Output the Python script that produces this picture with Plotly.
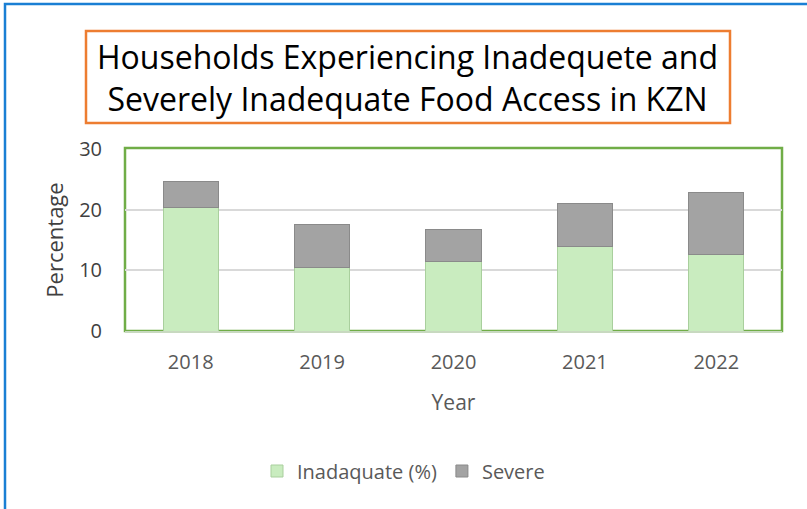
import plotly.graph_objects as go

years = ["2018", "2019", "2020", "2021", "2022"]
inadequate = [20.3, 10.4, 11.4, 14.0, 12.6]
severe = [4.4, 7.1, 5.4, 7.0, 10.3]
yticks = [0, 10, 20, 30]

W, H = 807, 509
def px(x): return x / W
def py(y): return 1 - y / H

fig = go.Figure()
fig.add_trace(go.Bar(x=years, y=inadequate, name="Inadaquate (%)",
                     marker=dict(color="#c9ecbf", line=dict(color="#a9cf9d", width=1)),
                     width=0.42))
fig.add_trace(go.Bar(x=years, y=severe, name="Severe",
                     marker=dict(color="#a3a3a3", line=dict(color="#8a8a8a", width=1)),
                     width=0.42))

font_family = "Open Sans, Noto Sans, sans-serif"
fig.update_layout(
    width=W, height=H, barmode="stack",
    margin=dict(l=0, r=0, t=0, b=0),
    paper_bgcolor="white", plot_bgcolor="white",
    font=dict(family=font_family, color="#595959"),
    xaxis=dict(domain=[px(125), px(782)], range=[-0.5, 4.5], type="category",
               tickfont=dict(size=20, color="#595959"), ticks="", showline=True,
               linecolor="#c8d9c0", linewidth=2, automargin=False,
               ticklabelstandoff=12,
               title=dict(text="Year", font=dict(size=21, color="#595959"), standoff=21)),
    yaxis=dict(domain=[py(331), py(149)], range=[0, 30], tickvals=yticks,
               tickfont=dict(size=20, color="#404040"), showgrid=True,
               gridcolor="#d9d9d9", gridwidth=1.5, zeroline=False, automargin=False,
               ticklabelstandoff=22,
               title=dict(text="Percentage", font=dict(size=22, color="#404040"), standoff=9)),
    legend=dict(orientation="h", x=0.5, xanchor="center", y=py(471), yanchor="middle",
                font=dict(size=20, color="#595959"), itemwidth=30, traceorder="normal"),
    showlegend=True,
)

# outer blue border (only top and left visible)
fig.add_shape(type="rect", xref="paper", yref="paper",
              x0=px(5), x1=px(830), y0=py(540), y1=py(4),
              line=dict(color="#1a7fd4", width=2.5), layer="below")
# green plot-area border
fig.add_shape(type="rect", xref="paper", yref="paper",
              x0=px(125), x1=px(782), y0=py(331), y1=py(148),
              line=dict(color="#70ad47", width=2.5), layer="below")
# orange title box
fig.add_shape(type="rect", xref="paper", yref="paper",
              x0=px(86), x1=px(730), y0=py(123), y1=py(31),
              line=dict(color="#ed7d31", width=2.5), fillcolor="white", layer="below")
fig.add_annotation(xref="paper", yref="paper", x=px(408), y=py(77),
                   text="Households Experiencing Inadequete and<br>Severely Inadequate Food Access in KZN",
                   showarrow=False, font=dict(size=32, color="#000000", family=font_family),
                   align="center", xanchor="center", yanchor="middle")

fig.write_html("out.html", config={"displayModeBar": False},
               post_script="document.body.style.margin='0px';")
